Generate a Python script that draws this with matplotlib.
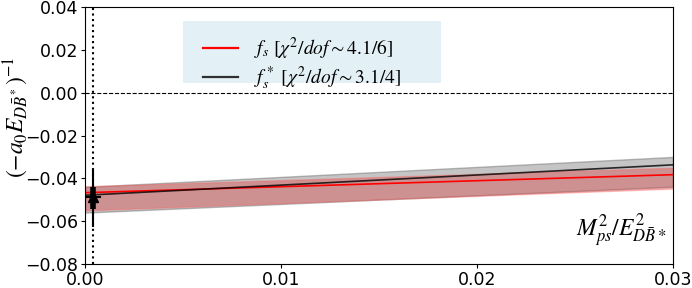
import matplotlib.pyplot as plt
from matplotlib.patches import Rectangle

plt.rcParams['mathtext.fontset'] = 'stix'

# fit lines (endpoints)
x_fit = [0.0, 0.03]
fs_mid = [-0.0467, -0.0383]
fs_lo = [-0.0550, -0.0448]
fs_hi = [-0.0437, -0.0350]
fss_mid = [-0.0479, -0.0337]
fss_lo = [-0.0560, -0.0439]
fss_hi = [-0.0440, -0.0300]

# physical point
x_phys = 0.0004
y_phys = -0.0485
yerr_tot = [[0.0140], [0.0130]]
yerr_stat = [[0.0060], [0.0045]]
xerr_phys = 0.0004

fig = plt.figure(figsize=(6.92, 2.88), dpi=100)
ax = fig.add_axes([0.1228, 0.0833, 0.8497, 0.8924])

ax.fill_between(x_fit, fss_lo, fss_hi, color='gray', alpha=0.45, lw=1, edgecolor='dimgray')
ax.fill_between(x_fit, fs_lo, fs_hi, color='#e03030', alpha=0.35, lw=1, edgecolor='#ff6060')
ax.plot(x_fit, fs_mid, color='red', lw=1.2, label=r'$f_s\ [\chi^2/dof\sim 4.1/6]$')
ax.plot(x_fit, fss_mid, color='black', lw=1.2, alpha=0.8, label=r'$f_s^*\ [\chi^2/dof\sim 3.1/4]$')

ax.errorbar(x_phys, y_phys, yerr=yerr_tot, xerr=xerr_phys, color='black', lw=1.5, fmt='none')
ax.errorbar(x_phys, y_phys, yerr=yerr_stat, color='black', lw=4, fmt='^', ms=7)

ax.axhline(0, color='black', ls='--', lw=0.8)
ax.axvline(x_phys, color='black', ls=':', lw=1.5)

ax.set_xlim(0, 0.03)
ax.set_ylim(-0.08, 0.04)
ax.set_xticks([0.0, 0.01, 0.02, 0.03])
ax.set_yticks([-0.08, -0.06, -0.04, -0.02, 0.0, 0.02, 0.04])
ax.tick_params(labelsize=12.5, length=3, pad=2)
ax.set_ylabel(r'$(-a_0 E_{D\bar{B}^*})^{-1}$', fontsize=17)
ax.yaxis.set_label_coords(-0.094, 0.57)
ax.text(0.0297, -0.0735, r'$M_{ps}^2/E_{D\bar{B}*}^2$', fontsize=17, ha='right', va='bottom')

# legend background box
ax.add_patch(Rectangle((0.166, 0.703), 0.44, 0.243, transform=ax.transAxes,
                       facecolor='#e3f0f5', edgecolor='none', zorder=4))
leg = ax.legend(loc='upper left', bbox_to_anchor=(0.175, 0.95), fontsize=14,
                frameon=False, handlelength=1.8, borderpad=0.3, labelspacing=0.15)
leg.set_zorder(5)
for line in leg.get_lines():
    line.set_linewidth(1.6)
for t in leg.get_texts():
    t.set_family('serif')

fig.savefig('out.png', dpi=100)
